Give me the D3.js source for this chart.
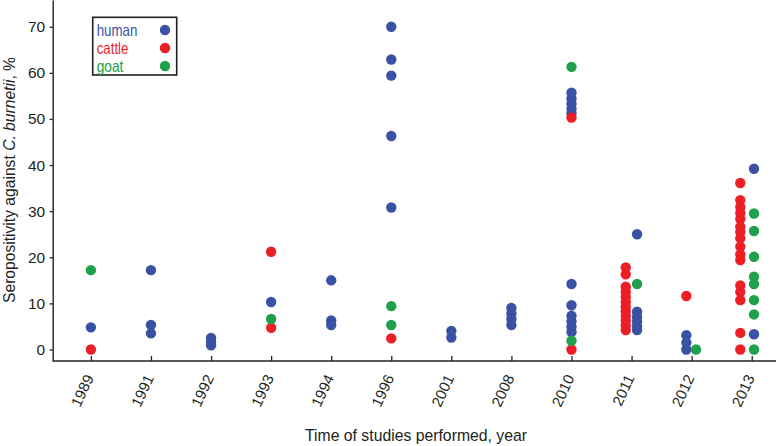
<!DOCTYPE html>
<html>
<head>
<meta charset="utf-8">
<script src="https://cdn.jsdelivr.net/npm/d3@7"></script>
<style>
  html, body { margin: 0; padding: 0; background: #ffffff; }
  svg { display: block; }
  .f { font-family: "Liberation Sans Narrow", "Arial Narrow", "Liberation Sans", Arial, sans-serif; }
  .yr { font-family: "Liberation Sans", Arial, sans-serif; }
</style>
</head>
<body>
<svg id="chart" width="776" height="446"></svg>
<script>
// ---- data ----
const years = ["1989","1991","1992","1993","1994","1996","2001","2008","2010","2011","2012","2013"];
const yTicks = [0, 10, 20, 30, 40, 50, 60, 70];
const seriesNames = ["human", "cattle", "goat"];

const human = [
  ["1989", 4.8],
  ["1991", 17.2], ["1991", 5.3], ["1991", 3.5],
  ["1992", 2.5], ["1992", 1.7], ["1992", 0.9],
  ["1993", 10.3],
  ["1994", 15.0], ["1994", 6.3], ["1994", 5.3],
  ["1996", 70.0], ["1996", 62.9], ["1996", 59.4], ["1996", 46.3], ["1996", 30.8],
  ["2001", 4.0], ["2001", 2.6],
  ["2008", 9.0], ["2008", 7.8], ["2008", 6.6], ["2008", 5.3],
  ["2010", 55.7], ["2010", 54.4], ["2010", 53.3], ["2010", 52.2], ["2010", 51.2],
  ["2010", 14.2], ["2010", 9.6], ["2010", 7.3], ["2010", 6.1], ["2010", 4.9], ["2010", 3.8],
  ["2011", 25.0], ["2011", 8.2], ["2011", 7.1], ["2011", 6.1], ["2011", 5.1], ["2011", 4.2],
  ["2012", 3.1], ["2012", 1.5], ["2012", 0.0],
  ["2013", 39.2], ["2013", 3.3]
];

const cattle = [
  ["1989", 0.0],
  ["1993", 21.2], ["1993", 4.7],
  ["1996", 2.4],
  ["2010", 50.3], ["2010", 0.0],
  ["2011", 17.8], ["2011", 16.3], ["2011", 13.6], ["2011", 12.5], ["2011", 11.4], ["2011", 10.3],
  ["2011", 9.3], ["2011", 8.3], ["2011", 7.3], ["2011", 6.3], ["2011", 5.2], ["2011", 4.2],
  ["2012", 11.6],
  ["2013", 36.1], ["2013", 32.4], ["2013", 30.9], ["2013", 29.6], ["2013", 28.3], ["2013", 26.6],
  ["2013", 25.5], ["2013", 24.1], ["2013", 22.3], ["2013", 20.6], ["2013", 19.4],
  ["2013", 13.9], ["2013", 12.5], ["2013", 10.7], ["2013", 3.6], ["2013", 0.0]
];

const goat = [
  ["1989", 17.2],
  ["1993", 6.6],
  ["1996", 9.4], ["1996", 5.3],
  ["2010", 61.3], ["2010", 1.9],
  ["2011", 14.2],
  ["2012", 0.0],
  ["2013", 29.5], ["2013", 25.7], ["2013", 20.1], ["2013", 15.8], ["2013", 14.2],
  ["2013", 10.7], ["2013", 7.6], ["2013", 0.0]
];

// ---- styles / layout ----
const colors = { human: "#3a52a4", cattle: "#ec1f26", goat: "#20a04b" };
const axisColor = "#231f20";
// side-by-side dodge (px) used in crowded years
const dodge = {
  "2011": { human: 5.5, cattle: -5.8, goat: 5.5 },
  "2012": { human: -5.3, cattle: -5.3, goat: 4.4 },
  "2013": { human: 2.3, cattle: -11.4, goat: 2.3 }
};

const svg = d3.select("#chart");
const x = d3.scalePoint().domain(years).range([90.9, 751.7]);
const y = d3.scaleLinear().domain([-2.5, 75.8]).range([361, 0]);
const axisX0 = 52.7, axisY0 = 361;

// x axis line across the full width
svg.append("line")
  .attr("x1", axisX0).attr("x2", 776)
  .attr("y1", axisY0).attr("y2", axisY0)
  .attr("stroke", axisColor).attr("stroke-width", 1.4);

// x axis ticks & labels
const gx = svg.append("g")
  .attr("transform", `translate(0,${axisY0})`)
  .call(d3.axisBottom(x).tickSizeInner(-5).tickSizeOuter(0));
gx.select(".domain").remove();
gx.selectAll(".tick line").attr("stroke", axisColor).attr("stroke-width", 1.3);
gx.selectAll(".tick text")
  .attr("class", "yr")
  .attr("x", null).attr("y", null)
  .attr("dy", "0.35em")
  .attr("text-anchor", "end")
  .attr("transform", "translate(-2,14.5) rotate(-65)")
  .attr("fill", "#231f20")
  .style("font-size", "15px");

// y axis
const gy = svg.append("g")
  .attr("transform", `translate(${axisX0},0)`)
  .call(d3.axisLeft(y).tickValues(yTicks).tickSizeInner(3).tickSizeOuter(0).tickPadding(4.5));
gy.select(".domain").attr("stroke", axisColor).attr("stroke-width", 1.4);
gy.selectAll(".tick line").attr("stroke", axisColor).attr("stroke-width", 1.3);
gy.selectAll(".tick text")
  .attr("class", "f")
  .attr("fill", "#231f20")
  .style("font-size", "15.5px");

// dots
const allSeries = { human, cattle, goat };
seriesNames.forEach(name => {
  svg.append("g").selectAll("circle")
    .data(allSeries[name])
    .join("circle")
    .attr("cx", d => x(d[0]) + ((dodge[d[0]] && dodge[d[0]][name]) || 0))
    .attr("cy", d => y(d[1]))
    .attr("r", 5.2)
    .attr("fill", colors[name]);
});

// axis titles
svg.append("text")
  .attr("class", "f")
  .attr("x", 416).attr("y", 441)
  .attr("text-anchor", "middle")
  .attr("textLength", 222).attr("lengthAdjust", "spacingAndGlyphs")
  .attr("fill", "#231f20")
  .style("font-size", "17px")
  .text("Time of studies performed, year");

const yt = svg.append("text")
  .attr("class", "f")
  .attr("transform", "translate(15,180) rotate(-90)")
  .attr("text-anchor", "middle")
  .attr("textLength", 246).attr("lengthAdjust", "spacingAndGlyphs")
  .attr("fill", "#231f20")
  .style("font-size", "17px");
yt.append("tspan").text("Seropositivity against ");
yt.append("tspan").style("font-style", "italic").text("C. burnetii");
yt.append("tspan").text(", %");

// legend
const legend = svg.append("g");
legend.append("rect")
  .attr("x", 92.7).attr("y", 17.3).attr("width", 84).attr("height", 57.7)
  .attr("fill", "none").attr("stroke", "#231f20").attr("stroke-width", 1.6);
const legendLen = { human: 40.7, cattle: 31.7, goat: 26.7 };
seriesNames.forEach((name, i) => {
  const cy = 30 + i * 18;
  legend.append("text")
    .attr("class", "f")
    .attr("x", 96.7).attr("y", cy + 5.5)
    .attr("textLength", legendLen[name]).attr("lengthAdjust", "spacingAndGlyphs")
    .attr("fill", colors[name])
    .style("font-size", "16.5px")
    .text(name);
  legend.append("circle")
    .attr("cx", 165).attr("cy", cy).attr("r", 5.2)
    .attr("fill", colors[name]);
});
</script>
</body>
</html>
